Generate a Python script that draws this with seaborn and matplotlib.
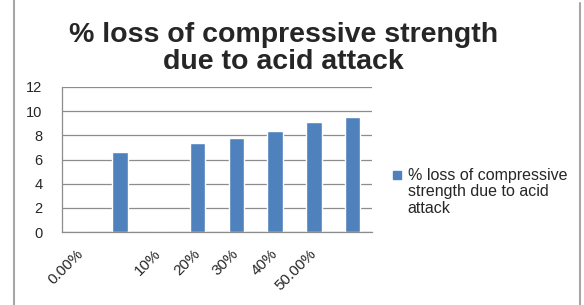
import matplotlib
matplotlib.use("Agg")
import matplotlib.pyplot as plt
import matplotlib.patches as mpatches
from matplotlib.legend_handler import HandlerPatch
from matplotlib.lines import Line2D
import numpy as np
import seaborn as sns

# Data
positions = list(range(8))
tick_labels = ["0.00%", "", "10%", "20%", "30%", "40%", "50.00%", ""]
loss_values = [0, 6.62, 0, 7.39, 7.78, 8.36, 9.13, 9.52]
y_ticks = [0, 2, 4, 6, 8, 10, 12]

TITLE = "% loss of compressive strength\ndue to acid attack"
SERIES = "% loss of compressive\nstrength due to acid\nattack"
BAR_COLOR = "#4F81BD"
GRID_COLOR = "#8C8C8C"

sns.set_style("white")
plt.rcParams["font.family"] = ["Liberation Sans", "DejaVu Sans"]

fig = plt.figure(figsize=(5.84, 3.05), dpi=100)
ax = fig.add_axes([62 / 584, 1 - 232 / 305, 310 / 584, 145 / 305])

sns.barplot(x=positions, y=loss_values, color=BAR_COLOR, saturation=1,
            width=0.4, ax=ax)

ax.set_xlim(-0.5, 7.5)
ax.set_ylim(0, 12)
ax.set_yticks(y_ticks)
ax.yaxis.grid(True, color=GRID_COLOR, linewidth=0.9)
ax.set_axisbelow(True)
for side in ("top", "right"):
    ax.spines[side].set_visible(False)
for side in ("left", "bottom"):
    ax.spines[side].set_color(GRID_COLOR)
    ax.spines[side].set_linewidth(0.9)

ax.set_xticks(positions)
ax.set_xticklabels(tick_labels, rotation=45, ha="right", va="center",
                   rotation_mode="anchor", fontsize=11)
ax.set_xticks(np.arange(-0.5, 8, 1), minor=True)
ax.tick_params(axis="x", which="major", length=0, pad=14)
ax.tick_params(axis="x", which="minor", length=3.6, width=0.9,
               color=GRID_COLOR, direction="out")
ax.tick_params(axis="y", length=3, width=0.9, color=GRID_COLOR,
               direction="out", pad=11, labelsize=10.5)
ax.set_xlabel("")
ax.set_ylabel("")

fig.text(0.485, 0.929, TITLE, ha="center", va="top", fontsize=20.5,
         fontweight="bold", linespacing=1.05)


def top_square(legend, orig_handle, xdescent, ydescent, width, height, fontsize):
    s = 0.5 * fontsize
    return mpatches.Rectangle((-xdescent + width - s, -ydescent + height - s + 0.2 * fontsize), s, s)


proxy = mpatches.Patch(color=BAR_COLOR, label=SERIES)
ax.legend(handles=[proxy], loc="upper left", bbox_to_anchor=(391 / 584, 1 - 168 / 305),
          bbox_transform=fig.transFigure, frameon=False, fontsize=11.5,
          handlelength=0.6, handleheight=3.3, handletextpad=0.45, borderpad=0,
          borderaxespad=0, handler_map={mpatches.Patch: HandlerPatch(patch_func=top_square)})
for t in ax.get_legend().get_texts():
    t.set_linespacing(1.12)

# chart area border (partly visible in the reference)
fig.add_artist(Line2D([14 / 584, 14 / 584], [0, 1], transform=fig.transFigure,
                      color="#A6A6A6", linewidth=1.5))
fig.add_artist(Line2D([580 / 584, 580 / 584], [0, 1 - 3 / 305], transform=fig.transFigure,
                      color="#A6A6A6", linewidth=1.5))

fig.savefig("out.png", dpi=100)
